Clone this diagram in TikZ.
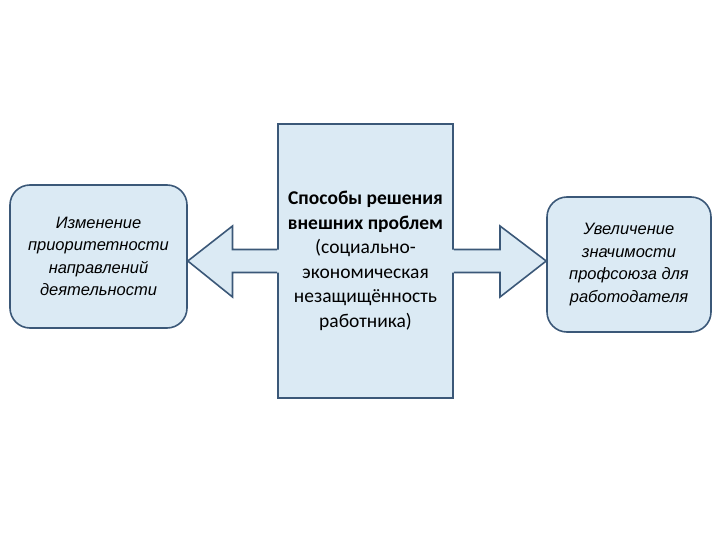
\documentclass[tikz,border=0pt]{standalone}
\usepackage{fontspec}
\setmainfont{Carlito}
\newfontfamily\sidefont{Liberation Sans}
\usetikzlibrary{calc}
\definecolor{cedge}{HTML}{3B5878}
\definecolor{cfill}{HTML}{DBEAF4}

\begin{document}
\begin{tikzpicture}[x=1pt,y=-1pt,
    box/.style={draw=cedge,fill=cfill,line width=1.6pt,align=center,inner sep=0pt},
    sidebox/.style={box,rounded corners=20pt,font=\sidefont\itshape\fontsize{16.5}{22.5}\selectfont},
    arrowfill/.style={fill=cfill},
    arrowline/.style={draw=cedge,line width=1.6pt,line join=miter}]
  \useasboundingbox (0,0) rectangle (720,540);
  % boxes
  \node[box,minimum width=175pt,minimum height=274pt,font=\fontsize{19.5}{24.5}\selectfont] (mid) at (365.5,261)
    {\textbf{Способы решения}\\\textbf{внешних проблем}\\(социально-\\экономическая\\незащищённость\\работника)};
  \node[sidebox,minimum width=177pt,minimum height=143pt] (lft) at (98.5,256.5)
    {Изменение\\приоритетности\\направлений\\деятельности};
  \node[sidebox,minimum width=164pt,minimum height=135pt] (rgt) at (629,264.5)
    {Увеличение\\значимости\\профсоюза для\\работодателя};
  % arrows
  \coordinate (lt) at (lft.east |- mid.west);
  \coordinate (lh) at ($(lt)!0.5!(mid.west)$);
  \path[arrowfill] ($(mid.west)+(2,-11.5)$) -- ($(lh)+(0,-11.5)$) -- ($(lh)+(0,-35)$) -- (lt)
    -- ($(lh)+(0,36)$) -- ($(lh)+(0,11.5)$) -- ($(mid.west)+(2,11.5)$) -- cycle;
  \draw[arrowline] ($(mid.west)+(0,-11.5)$) -- ($(lh)+(0,-11.5)$) -- ($(lh)+(0,-35)$) -- (lt)
    -- ($(lh)+(0,36)$) -- ($(lh)+(0,11.5)$) -- ($(mid.west)+(0,11.5)$);
  \coordinate (rt) at (rgt.west |- mid.east);
  \coordinate (rh) at ($(rt)!0.5!(mid.east)$);
  \path[arrowfill] ($(mid.east)+(-2,-11.5)$) -- ($(rh)+(0,-11.5)$) -- ($(rh)+(0,-35)$) -- (rt)
    -- ($(rh)+(0,36)$) -- ($(rh)+(0,11.5)$) -- ($(mid.east)+(-2,11.5)$) -- cycle;
  \draw[arrowline] ($(mid.east)+(0,-11.5)$) -- ($(rh)+(0,-11.5)$) -- ($(rh)+(0,-35)$) -- (rt)
    -- ($(rh)+(0,36)$) -- ($(rh)+(0,11.5)$) -- ($(mid.east)+(0,11.5)$);
\end{tikzpicture}
\end{document}
